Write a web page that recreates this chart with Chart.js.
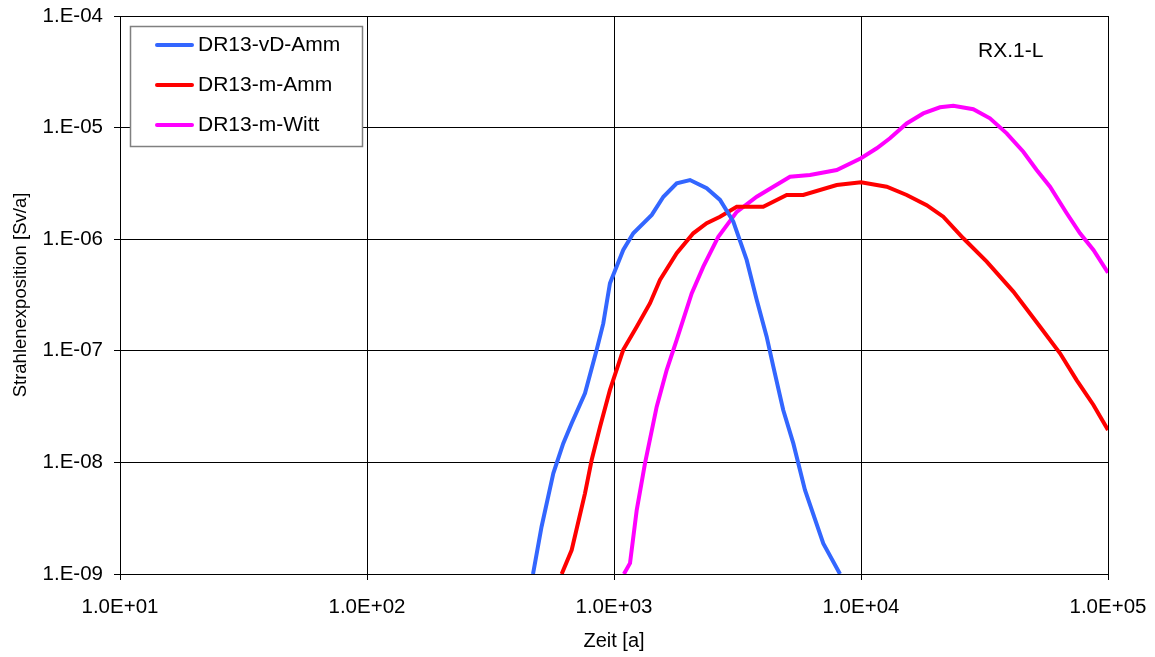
<!DOCTYPE html>
<html>
<head>
<meta charset="utf-8">
<script src="https://cdn.jsdelivr.net/npm/chart.js@4/dist/chart.umd.min.js"></script>
<style>
  body { margin: 0; background: #fff; }
  canvas { display: block; }
</style>
</head>
<body>
<canvas id="chart" width="1155" height="657"></canvas>
<script>
var xTicks = [1e1, 1e2, 1e3, 1e4, 1e5];
var yTicks = [1e-9, 1e-8, 1e-7, 1e-6, 1e-5, 1e-4];

// Zeit [a] / Strahlenexposition [Sv/a]
var vdAmmX = [470, 509, 568, 623, 674, 763, 851, 905, 963, 1090, 1197, 1422, 1585, 1794, 2031,
  2373, 2687, 3041, 3444, 3784, 4150, 4416, 4843, 5321, 5930, 7035, 8222];
var vdAmmY = [1.0e-9, 2.65e-9, 7.98e-9, 1.48e-8, 2.24e-8, 4.16e-8, 1.02e-7, 1.76e-7, 4.03e-7, 8.0e-7,
  1.13e-6, 1.65e-6, 2.40e-6, 3.17e-6, 3.39e-6, 2.86e-6, 2.25e-6, 1.44e-6, 6.52e-7, 2.85e-7, 1.34e-7,
  7.21e-8, 2.95e-8, 1.48e-8, 5.66e-9, 1.88e-9, 1.0e-9];

var mAmmX = [614, 674, 763, 812, 878, 963, 1090, 1236, 1399, 1535, 1794, 2094, 2373, 2687, 3140,
  4019, 5002, 5837, 7976, 10000, 12705, 15310, 18450, 21530, 25950, 32280, 41380, 53080, 63940,
  74650, 87300, 100000];
var mAmmY = [1.0e-9, 1.64e-9, 5.28e-9, 1.05e-8, 2.09e-8, 4.46e-8, 1.02e-7, 1.64e-7, 2.67e-7, 4.31e-7,
  7.48e-7, 1.13e-6, 1.39e-6, 1.59e-6, 1.95e-6, 1.95e-6, 2.49e-6, 2.49e-6, 3.06e-6, 3.24e-6, 2.95e-6,
  2.49e-6, 2.02e-6, 1.59e-6, 1.02e-6, 6.29e-7, 3.39e-7, 1.64e-7, 9.50e-8, 5.47e-8, 3.27e-8, 1.95e-8];

var mWittX = [1097, 1161, 1236, 1335, 1489, 1634, 1794, 2063, 2299, 2644, 3140, 3784, 4416, 5160,
  6215, 7976, 10000, 11580, 13100, 15310, 17870, 20880, 23640, 28490, 33270, 38890, 45400, 51420,
  58240, 68050, 77040, 87300, 100000];
var mWittY = [1.0e-9, 1.25e-9, 3.74e-9, 9.82e-9, 3.16e-8, 6.73e-8, 1.25e-7, 3.27e-7, 5.67e-7, 1.05e-6,
  1.76e-6, 2.40e-6, 2.95e-6, 3.63e-6, 3.76e-6, 4.17e-6, 5.31e-6, 6.53e-6, 8.02e-6, 1.09e-5, 1.34e-5,
  1.52e-5, 1.57e-5, 1.46e-5, 1.21e-5, 8.89e-6, 6.08e-6, 4.17e-6, 2.95e-6, 1.71e-6, 1.13e-6, 8.0e-7,
  5.01e-7];

var seriesNames = ["DR13-vD-Amm", "DR13-m-Amm", "DR13-m-Witt"];
var seriesColors = ["#3366FF", "#FF0000", "#FF00FF"];
var cornerLabel = "RX.1-L";

function toPoints(xs, ys) {
  var pts = [];
  for (var i = 0; i < xs.length; i++) {
    pts.push({ x: xs[i], y: ys[i] });
  }
  return pts;
}

function pad2(n) {
  return (n < 10 ? "0" : "") + n;
}

function xLabel(v) {
  var e = Math.round(Math.log10(v));
  return "1.0E" + (e < 0 ? "-" : "+") + pad2(Math.abs(e));
}

function yLabel(v) {
  var e = Math.round(Math.log10(v));
  return "1.E" + (e < 0 ? "-" : "+") + pad2(Math.abs(e));
}

// keep the plot box where the layout padding puts it
function noEdgePadding(scale) {
  scale.paddingLeft = 0;
  scale.paddingRight = 0;
  scale.paddingTop = 0;
  scale.paddingBottom = 0;
}

// legend box + corner label drawn inside the plot area
var boxLegend = {
  id: "boxLegend",
  afterDraw: function (chart) {
    var ctx = chart.ctx;
    var area = chart.chartArea;
    ctx.save();
    var bx = area.left + 10, by = area.top + 10, bw = 232, bh = 120;
    ctx.fillStyle = "#fff";
    ctx.fillRect(bx, by, bw, bh);
    ctx.strokeStyle = "#808080";
    ctx.lineWidth = 1.5;
    ctx.strokeRect(bx + 0.5, by + 0.5, bw, bh);
    ctx.font = "21px 'Liberation Sans', Arial, sans-serif";
    ctx.textBaseline = "middle";
    ctx.textAlign = "left";
    chart.data.datasets.forEach(function (ds, i) {
      var y = by + 19 + i * 40;
      ctx.strokeStyle = ds.borderColor;
      ctx.lineWidth = 4;
      ctx.lineCap = "round";
      ctx.beginPath();
      ctx.moveTo(bx + 27, y);
      ctx.lineTo(bx + 62, y);
      ctx.stroke();
      ctx.fillStyle = "#000";
      ctx.fillText(ds.label, bx + 68, y);
    });
    ctx.fillText(cornerLabel, area.left + 858, area.top + 35);
    ctx.restore();
  }
};

Chart.defaults.font.family = "'Liberation Sans', Arial, sans-serif";
Chart.defaults.color = "#000";

new Chart(document.getElementById("chart"), {
  type: "line",
  data: {
    datasets: [
      { label: seriesNames[0], data: toPoints(vdAmmX, vdAmmY), borderColor: seriesColors[0] },
      { label: seriesNames[1], data: toPoints(mAmmX, mAmmY), borderColor: seriesColors[1] },
      { label: seriesNames[2], data: toPoints(mWittX, mWittY), borderColor: seriesColors[2] }
    ]
  },
  options: {
    responsive: false,
    animation: false,
    layout: { padding: { top: 16, right: 47, bottom: 0, left: 0 } },
    elements: {
      line: { borderWidth: 4, tension: 0, fill: false },
      point: { radius: 0 }
    },
    plugins: {
      legend: { display: false },
      tooltip: { enabled: false }
    },
    scales: {
      x: {
        type: "logarithmic",
        min: 1e1,
        max: 1e5,
        afterBuildTicks: function (scale) {
          scale.ticks = xTicks.map(function (v) { return { value: v }; });
        },
        afterFit: function (scale) {
          scale.height = 83;
          noEdgePadding(scale);
        },
        grid: { color: "#000", lineWidth: 1, tickLength: 6 },
        border: { color: "#000", width: 1 },
        ticks: {
          font: { size: 20.5 },
          padding: 15,
          maxRotation: 0,
          autoSkip: false,
          callback: function (v) { return xLabel(v); }
        },
        title: {
          display: true,
          text: "Zeit [a]",
          font: { size: 20 },
          padding: { top: 0, bottom: 4 }
        }
      },
      y: {
        type: "logarithmic",
        min: 1e-9,
        max: 1e-4,
        afterBuildTicks: function (scale) {
          scale.ticks = yTicks.map(function (v) { return { value: v }; });
        },
        afterFit: function (scale) {
          scale.width = 120;
          noEdgePadding(scale);
        },
        grid: { color: "#000", lineWidth: 1, tickLength: 6 },
        border: { color: "#000", width: 1 },
        ticks: {
          font: { size: 20.5 },
          padding: 11,
          autoSkip: false,
          callback: function (v) { return yLabel(v); }
        },
        title: {
          display: true,
          text: "Strahlenexposition [Sv/a]",
          font: { size: 18.5 },
          padding: { top: 10, bottom: 0 }
        }
      }
    }
  },
  plugins: [boxLegend]
});
</script>
</body>
</html>
